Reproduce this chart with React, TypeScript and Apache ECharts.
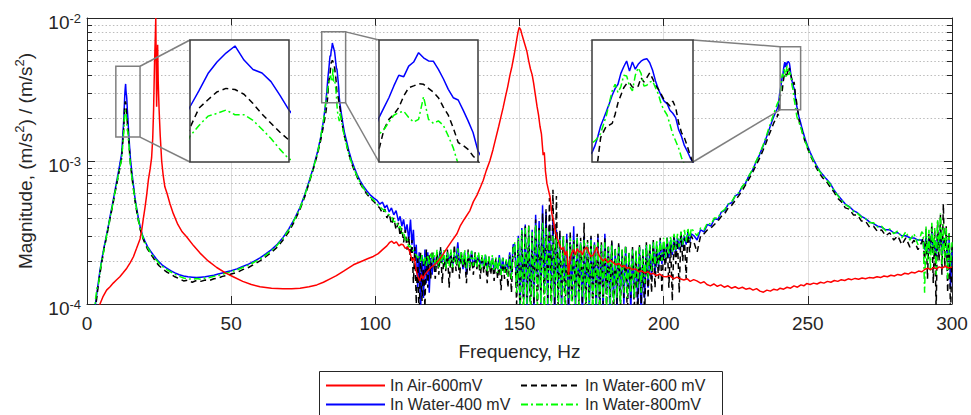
import React, { useEffect, useRef } from 'react';
import * as echarts from 'echarts';

const FONT = '"Liberation Sans", Arial, Helvetica, sans-serif';
const INK = '#262626';

// ---------------- In Air-600mV : [frequency Hz, magnitude] ----------------
const airSpectrum = [
  [4.0, 8.5e-5], [4.5, 1.0e-4], [5.5, 1.12e-4], [6.8, 1.25e-4], [8.0, 1.32e-4], [9.1, 1.4e-4], [10.2, 1.47e-4],
  [11.4, 1.55e-4], [12.6, 1.66e-4], [13.8, 1.78e-4], [15.0, 1.95e-4], [16.1, 2.14e-4], [17.2, 2.45e-4], [18.4, 2.85e-4],
  [19.0, 3.3e-4], [19.5, 3.9e-4], [20.1, 4.7e-4], [20.7, 5.8e-4], [21.3, 7.4e-4], [21.9, 8.8e-4], [22.4, 1.05e-3],
  [22.8, 1.45e-3], [23.1, 2.3e-3], [23.4, 4.6e-3], [23.7, 7.5e-3], [23.85, 1.0e-2], [24.0, 5.0e-3], [24.15, 2.4e-3],
  [24.35, 4.2e-3], [24.5, 6.5e-3], [24.7, 3.6e-3], [25.0, 2.3e-3], [25.4, 1.5e-3], [25.9, 1.0e-3], [26.4, 8.0e-4],
  [27.0, 6.6e-4], [27.8, 5.9e-4], [28.8, 5.0e-4], [29.9, 4.3e-4], [31.5, 3.6e-4], [33.0, 3.2e-4], [34.6, 2.94e-4],
  [37.0, 2.55e-4], [39.2, 2.27e-4], [42.0, 2.0e-4], [45.0, 1.8e-4], [48.0, 1.65e-4], [50.7, 1.55e-4], [54.0, 1.44e-4],
  [57.0, 1.37e-4], [60.0, 1.32e-4], [64.0, 1.29e-4], [68.0, 1.28e-4], [71.0, 1.28e-4], [73.9, 1.29e-4], [77.0, 1.32e-4],
  [79.7, 1.36e-4], [82.0, 1.42e-4], [84.3, 1.5e-4], [86.5, 1.58e-4], [89.0, 1.7e-4], [92.4, 1.88e-4], [95.5, 2.0e-4],
  [97.5, 2.08e-4], [99.3, 2.15e-4], [101.0, 2.25e-4], [102.5, 2.4e-4], [104.0, 2.55e-4], [105.0, 2.7e-4], [105.7, 2.75e-4],
  [106.5, 2.65e-4], [107.3, 2.72e-4], [108.2, 2.55e-4], [109.0, 2.62e-4], [109.6, 2.6e-4], [110.4, 2.45e-4], [111.2, 2.5e-4],
  [112.0, 2.3e-4], [112.8, 2.0e-4], [113.5, 2.1e-4], [114.2, 1.7e-4], [114.8, 1.55e-4], [115.4, 1.45e-4], [116.0, 1.6e-4],
  [116.5, 1.5e-4], [117.3, 1.62e-4], [118.2, 1.7e-4], [119.0, 1.78e-4], [120.0, 1.85e-4], [121.4, 1.95e-4], [123.0, 2.15e-4],
  [124.8, 2.45e-4], [126.5, 2.75e-4], [128.3, 3.1e-4], [129.4, 3.5e-4], [130.8, 3.9e-4], [132.8, 4.5e-4], [134.0, 5.2e-4],
  [135.3, 5.8e-4], [136.5, 6.6e-4], [137.4, 7.3e-4], [138.5, 8.6e-4], [139.7, 1.0e-3], [140.8, 1.2e-3], [141.8, 1.45e-3],
  [142.8, 1.75e-3], [143.6, 2.05e-3], [144.3, 2.35e-3], [145.1, 2.8e-3], [145.9, 3.3e-3], [146.7, 4.0e-3], [147.4, 4.6e-3],
  [148.2, 5.6e-3], [149.0, 7.0e-3], [149.5, 8.0e-3], [149.9, 8.6e-3], [150.4, 8.3e-3], [150.9, 7.6e-3], [151.5, 6.9e-3],
  [152.1, 6.3e-3], [152.6, 5.8e-3], [153.2, 5.0e-3], [153.8, 4.4e-3], [154.4, 4.0e-3], [154.9, 3.5e-3], [155.5, 2.9e-3],
  [156.1, 2.4e-3], [156.6, 2.1e-3], [157.1, 1.75e-3], [157.6, 1.55e-3], [158.2, 1.1e-3], [158.6, 1.15e-3], [159.0, 8.5e-4],
  [159.5, 7.0e-4], [160.0, 6.3e-4], [160.6, 5.6e-4], [161.2, 4.3e-4], [161.7, 3.9e-4], [162.3, 3.3e-4], [163.0, 2.9e-4],
  [163.5, 2.75e-4], [164.0, 2.55e-4], [164.6, 2.4e-4], [165.2, 2.5e-4], [165.8, 2.2e-4], [166.4, 2.35e-4], [167.0, 1.6e-4],
  [167.6, 2.1e-4], [168.2, 2.3e-4], [168.7, 2.4e-4], [169.4, 2.2e-4], [170.0, 2.45e-4], [170.6, 2.3e-4], [171.2, 2.35e-4],
  [171.8, 2.2e-4], [172.5, 2.4e-4], [173.3, 2.5e-4], [174.0, 2.3e-4], [174.8, 2.15e-4], [175.6, 2.2e-4], [176.2, 2.35e-4],
  [176.8, 2.5e-4], [177.5, 2.2e-4], [178.2, 2.1e-4], [179.0, 2.0e-4], [179.8, 2.08e-4], [180.6, 1.95e-4], [181.5, 2.02e-4],
  [182.6, 1.94e-4], [183.5, 1.88e-4], [184.5, 1.92e-4], [185.5, 1.82e-4], [186.4, 1.86e-4], [187.2, 1.78e-4], [188.2, 1.8e-4],
  [189.2, 1.74e-4], [190.3, 1.76e-4], [191.3, 1.68e-4], [192.4, 1.7e-4], [193.5, 1.65e-4], [194.6, 1.68e-4], [195.5, 1.62e-4],
  [196.4, 1.64e-4], [197.5, 1.58e-4], [198.6, 1.62e-4], [199.8, 1.56e-4], [201.0, 1.55e-4], [202.2, 1.58e-4], [203.4, 1.5e-4],
  [204.6, 1.54e-4], [205.7, 1.5e-4], [207.0, 1.47e-4], [208.2, 1.5e-4], [209.2, 1.44e-4], [210.4, 1.48e-4], [211.5, 1.45e-4],
  [212.8, 1.4e-4], [214.0, 1.43e-4], [215.0, 1.37e-4], [216.2, 1.34e-4], [217.4, 1.38e-4], [218.6, 1.33e-4], [219.8, 1.36e-4],
  [221.0, 1.31e-4], [222.3, 1.34e-4], [223.5, 1.29e-4], [224.8, 1.32e-4], [226.0, 1.28e-4], [227.3, 1.31e-4], [228.5, 1.27e-4],
  [229.8, 1.29e-4], [231.0, 1.25e-4], [232.2, 1.28e-4], [233.4, 1.23e-4], [234.6, 1.21e-4], [235.8, 1.25e-4], [237.0, 1.23e-4],
  [238.2, 1.27e-4], [239.4, 1.25e-4], [240.4, 1.29e-4], [241.6, 1.27e-4], [242.8, 1.31e-4], [244.0, 1.29e-4], [245.2, 1.34e-4],
  [246.4, 1.31e-4], [247.6, 1.36e-4], [248.6, 1.34e-4], [249.6, 1.39e-4], [250.8, 1.37e-4], [252.0, 1.4e-4], [253.2, 1.38e-4],
  [254.4, 1.42e-4], [255.6, 1.4e-4], [256.8, 1.44e-4], [258.0, 1.42e-4], [259.2, 1.46e-4], [260.4, 1.44e-4], [261.6, 1.48e-4],
  [262.8, 1.46e-4], [264.0, 1.5e-4], [265.2, 1.48e-4], [266.4, 1.51e-4], [267.6, 1.49e-4], [268.8, 1.52e-4], [270.0, 1.5e-4],
  [271.2, 1.53e-4], [272.7, 1.52e-4], [274.0, 1.55e-4], [275.2, 1.53e-4], [276.4, 1.57e-4], [277.6, 1.55e-4], [278.8, 1.59e-4],
  [280.0, 1.57e-4], [281.2, 1.61e-4], [282.4, 1.59e-4], [283.6, 1.64e-4], [284.8, 1.62e-4], [286.0, 1.67e-4], [287.2, 1.65e-4],
  [288.4, 1.7e-4], [289.6, 1.68e-4], [290.6, 1.75e-4], [291.6, 1.78e-4], [292.6, 1.74e-4], [293.6, 1.8e-4], [294.6, 1.76e-4],
  [295.6, 1.82e-4], [296.6, 1.78e-4], [297.6, 1.84e-4], [298.6, 1.79e-4], [299.5, 1.8e-4], [300.0, 1.82e-4],
];

// ------------- In Water rows: [frequency Hz, 400 mV, 600 mV, 800 mV] -------------
const waterRise = [
  [2.6, 8.0e-5, 7.5e-5, 8.5e-5], [3.0, 1.02e-4, 9.6e-5, 1.1e-4], [3.5, 1.22e-4, 1.15e-4, 1.3e-4],
  [4.0, 1.45e-4, 1.4e-4, 1.38e-4], [4.5, 1.72e-4, 1.62e-4, 1.68e-4], [5.0, 1.98e-4, 1.9e-4, 1.95e-4],
  [5.5, 2.25e-4, 2.15e-4, 2.2e-4], [6.0, 2.55e-4, 2.5e-4, 2.45e-4], [6.5, 2.85e-4, 2.75e-4, 2.8e-4],
  [7.0, 3.2e-4, 3.1e-4, 3.15e-4], [7.5, 3.6e-4, 3.5e-4, 3.55e-4], [8.0, 4.1e-4, 3.95e-4, 4.0e-4],
  [8.5, 4.6e-4, 4.45e-4, 4.5e-4], [9.0, 5.2e-4, 5.0e-4, 5.05e-4], [9.5, 5.9e-4, 5.7e-4, 5.75e-4],
  [10.0, 6.7e-4, 6.4e-4, 6.5e-4], [10.5, 7.6e-4, 7.2e-4, 7.3e-4], [11.0, 8.6e-4, 8.1e-4, 8.2e-4],
  [11.5, 9.8e-4, 9.2e-4, 9.2e-4], [12.0, 1.12e-3, 1.04e-3, 1.03e-3], [12.3, 1.38e-3, 1.25e-3, 1.22e-3],
  [12.6, 1.72e-3, 1.52e-3, 1.45e-3], [12.8, 2.05e-3, 1.78e-3, 1.68e-3],
];
const waterPeak1 = [
  [12.9, 2.31e-3, 2.01e-3, 1.90e-3], [13.0, 2.57e-3, 2.29e-3, 2.04e-3], [13.1, 2.88e-3, 2.42e-3, 2.17e-3],
  [13.2, 3.11e-3, 2.55e-3, 2.21e-3], [13.3, 3.30e-3, 2.61e-3, 2.26e-3], [13.4, 3.46e-3, 2.59e-3, 2.19e-3],
  [13.5, 3.15e-3, 2.51e-3, 2.19e-3], [13.6, 2.96e-3, 2.36e-3, 2.11e-3], [13.7, 2.89e-3, 2.20e-3, 1.99e-3],
  [13.8, 2.73e-3, 2.07e-3, 1.87e-3], [13.9, 2.49e-3, 1.95e-3, 1.74e-3], [14.0, 2.26e-3, 1.85e-3, 1.63e-3],
];
const waterTrough = [
  [14.2, 1.95e-3, 1.72e-3, 1.6e-3], [14.4, 1.65e-3, 1.48e-3, 1.4e-3], [14.7, 1.32e-3, 1.2e-3, 1.15e-3],
  [15.1, 1.02e-3, 9.4e-4, 9.2e-4], [15.6, 8.2e-4, 7.7e-4, 7.6e-4], [16.1, 6.8e-4, 6.4e-4, 6.4e-4],
  [16.6, 5.6e-4, 5.3e-4, 5.4e-4], [17.2, 4.7e-4, 4.5e-4, 4.6e-4], [17.8, 4.0e-4, 3.85e-4, 3.9e-4],
  [18.4, 3.5e-4, 3.35e-4, 3.4e-4], [19.2, 3.05e-4, 2.95e-4, 3.0e-4], [20.0, 2.78e-4, 2.68e-4, 2.72e-4],
  [21.0, 2.52e-4, 2.42e-4, 2.48e-4], [22.0, 2.35e-4, 2.25e-4, 2.3e-4], [23.0, 2.2e-4, 2.1e-4, 2.16e-4],
  [24.0, 2.07e-4, 1.96e-4, 2.03e-4], [25.0, 1.97e-4, 1.85e-4, 1.93e-4], [26.0, 1.88e-4, 1.78e-4, 1.84e-4],
  [27.5, 1.79e-4, 1.68e-4, 1.75e-4], [29.0, 1.71e-4, 1.62e-4, 1.68e-4], [30.5, 1.65e-4, 1.55e-4, 1.61e-4],
  [32.0, 1.6e-4, 1.5e-4, 1.56e-4], [33.5, 1.57e-4, 1.45e-4, 1.52e-4], [35.0, 1.55e-4, 1.47e-4, 1.5e-4],
  [36.5, 1.54e-4, 1.42e-4, 1.49e-4], [38.0, 1.53e-4, 1.46e-4, 1.51e-4], [39.5, 1.54e-4, 1.44e-4, 1.49e-4],
  [41.0, 1.55e-4, 1.47e-4, 1.52e-4], [42.5, 1.57e-4, 1.46e-4, 1.53e-4], [44.0, 1.59e-4, 1.5e-4, 1.56e-4],
  [45.5, 1.62e-4, 1.52e-4, 1.58e-4], [47.0, 1.65e-4, 1.56e-4, 1.62e-4], [48.5, 1.68e-4, 1.58e-4, 1.65e-4],
  [50.0, 1.71e-4, 1.62e-4, 1.68e-4], [52.0, 1.76e-4, 1.66e-4, 1.73e-4], [54.0, 1.83e-4, 1.74e-4, 1.8e-4],
  [56.0, 1.9e-4, 1.8e-4, 1.87e-4], [58.0, 1.99e-4, 1.9e-4, 1.96e-4], [60.0, 2.1e-4, 2.0e-4, 2.06e-4],
  [62.0, 2.24e-4, 2.14e-4, 2.2e-4], [64.0, 2.4e-4, 2.3e-4, 2.36e-4], [66.0, 2.62e-4, 2.5e-4, 2.58e-4],
  [68.0, 2.92e-4, 2.8e-4, 2.88e-4], [70.0, 3.35e-4, 3.2e-4, 3.3e-4], [72.0, 3.95e-4, 3.8e-4, 3.9e-4],
  [73.9, 4.75e-4, 4.6e-4, 4.7e-4], [75.5, 5.8e-4, 5.6e-4, 5.75e-4], [77.0, 7.2e-4, 7.0e-4, 7.1e-4],
  [78.5, 9.0e-4, 8.8e-4, 8.9e-4], [80.0, 1.17e-3, 1.13e-3, 1.15e-3], [81.0, 1.45e-3, 1.38e-3, 1.45e-3],
  [82.0, 1.9e-3, 1.75e-3, 1.9e-3], [82.8, 2.55e-3, 2.15e-3, 2.55e-3], [83.2, 3.1e-3, 2.5e-3, 2.95e-3],
];
const waterPeak2 = [
  [83.5, 3.73e-3, 2.80e-3, 3.21e-3], [83.7, 4.08e-3, 3.35e-3, 3.35e-3], [83.9, 4.46e-3, 3.67e-3, 3.58e-3],
  [84.1, 4.96e-3, 3.84e-3, 3.81e-3], [84.3, 5.46e-3, 4.08e-3, 3.90e-3], [84.5, 5.39e-3, 4.53e-3, 3.95e-3],
  [84.7, 5.93e-3, 4.88e-3, 3.73e-3], [84.9, 6.15e-3, 4.96e-3, 3.58e-3], [85.1, 6.69e-3, 5.06e-3, 3.67e-3],
  [85.3, 6.39e-3, 5.03e-3, 4.50e-3], [85.5, 6.21e-3, 4.85e-3, 3.67e-3], [85.7, 6.19e-3, 4.69e-3, 3.54e-3],
  [85.9, 5.76e-3, 4.46e-3, 3.62e-3], [86.1, 5.29e-3, 4.10e-3, 3.48e-3], [86.3, 4.81e-3, 3.81e-3, 3.16e-3],
  [86.5, 4.46e-3, 3.40e-3, 2.84e-3], [86.7, 4.37e-3, 2.98e-3, 2.45e-3], [86.9, 3.99e-3, 2.90e-3, 2.20e-3],
  [87.1, 3.62e-3, 2.80e-3, 2.08e-3], [87.3, 3.26e-3, 2.64e-3, 1.98e-3], [87.5, 2.76e-3, 2.52e-3, 1.90e-3],
];
const waterDecay = [
  [87.8, 2.45e-3, 2.3e-3, 2.2e-3], [88.2, 2.15e-3, 2.0e-3, 1.95e-3], [88.7, 1.85e-3, 1.72e-3, 1.7e-3],
  [89.3, 1.58e-3, 1.48e-3, 1.47e-3], [90.0, 1.38e-3, 1.3e-3, 1.3e-3], [90.8, 1.18e-3, 1.12e-3, 1.12e-3],
  [91.7, 1.02e-3, 9.7e-4, 9.8e-4], [92.7, 9.0e-4, 8.6e-4, 8.7e-4], [93.7, 8.0e-4, 7.7e-4, 7.8e-4],
  [94.7, 7.3e-4, 7.0e-4, 7.1e-4], [95.8, 6.7e-4, 6.4e-4, 6.5e-4], [97.0, 6.2e-4, 5.9e-4, 6.0e-4],
  [98.2, 5.8e-4, 5.5e-4, 5.6e-4], [99.5, 5.5e-4, 5.2e-4, 5.3e-4], [100.6, 5.3e-4, 4.9e-4, 5.0e-4],
  [101.5, 5.0e-4, 4.7e-4, 4.8e-4], [102.5, 5.15e-4, 4.3e-4, 4.6e-4], [103.3, 4.7e-4, 4.6e-4, 4.5e-4],
  [104.0, 4.9e-4, 4.0e-4, 4.3e-4], [104.8, 4.4e-4, 4.3e-4, 4.2e-4], [105.6, 4.7e-4, 3.6e-4, 4.1e-4],
  [106.4, 4.2e-4, 4.0e-4, 3.75e-4], [107.2, 4.5e-4, 3.3e-4, 3.8e-4], [108.0, 3.8e-4, 3.7e-4, 3.4e-4],
  [108.6, 4.1e-4, 3.0e-4, 3.5e-4], [109.2, 3.5e-4, 3.4e-4, 3.1e-4], [109.8, 3.9e-4, 2.7e-4, 3.2e-4],
  [110.4, 3.2e-4, 3.3e-4, 2.8e-4], [111.0, 3.6e-4, 2.4e-4, 2.9e-4], [111.6, 2.8e-4, 3.0e-4, 2.5e-4],
  [112.2, 3.9e-4, 2.0e-4, 2.55e-4], [112.7, 2.6e-4, 2.8e-4, 2.4e-4], [113.2, 3.3e-4, 1.4e-4, 2.35e-4],
  [113.7, 2.1e-4, 2.5e-4, 2.25e-4], [114.2, 2.6e-4, 1.0e-4, 2.2e-4], [114.7, 1.3e-4, 2.2e-4, 2.1e-4],
  [115.2, 2.3e-4, 8e-5, 2.15e-4], [115.7, 9e-5, 2.3e-4, 1.95e-4], [116.2, 2.2e-4, 1.05e-4, 2.2e-4],
  [116.7, 1.1e-4, 2.1e-4, 1.9e-4], [117.2, 2.4e-4, 9.5e-5, 2.15e-4], [117.7, 1.4e-4, 2.4e-4, 1.85e-4],
  [118.2, 2.3e-4, 1.3e-4, 2.2e-4], [118.7, 1.2e-4, 2.2e-4, 1.9e-4], [119.2, 2.1e-4, 1.5e-4, 2.25e-4],
  [119.7, 1.6e-4, 2.3e-4, 1.95e-4],
];
const waterBand = [
  [120.2, 2.2e-4, 2.0e-4, 2.3e-4], [120.8, 1.8e-4, 1.5e-4, 1.85e-4], [121.4, 2.3e-4, 2.3e-4, 2.4e-4],
  [122.0, 1.9e-4, 1.6e-4, 1.8e-4], [122.6, 2.4e-4, 2.5e-4, 2.35e-4], [123.2, 1.95e-4, 1.4e-4, 1.9e-4],
  [123.8, 2.2e-4, 2.2e-4, 2.4e-4], [124.4, 1.8e-4, 1.7e-4, 1.75e-4], [125.0, 2.3e-4, 2.4e-4, 2.3e-4],
  [125.6, 2.0e-4, 1.3e-4, 1.85e-4], [126.2, 2.25e-4, 2.3e-4, 2.4e-4], [126.8, 1.85e-4, 1.6e-4, 1.8e-4],
  [127.4, 2.2e-4, 2.6e-4, 2.3e-4], [128.0, 2.0e-4, 1.7e-4, 1.9e-4], [128.6, 2.7e-4, 2.2e-4, 2.45e-4],
  [129.2, 1.9e-4, 1.5e-4, 1.8e-4], [129.8, 2.2e-4, 2.3e-4, 2.35e-4], [130.4, 1.75e-4, 1.8e-4, 1.85e-4],
  [131.0, 2.3e-4, 2.1e-4, 2.4e-4], [131.6, 1.6e-4, 1.4e-4, 1.75e-4], [132.2, 2.2e-4, 2.4e-4, 2.3e-4],
  [132.8, 1.9e-4, 1.7e-4, 1.8e-4], [133.4, 2.35e-4, 2.2e-4, 2.35e-4], [134.0, 1.8e-4, 1.6e-4, 1.85e-4],
  [134.6, 2.1e-4, 2.3e-4, 2.25e-4], [135.2, 1.9e-4, 1.75e-4, 1.8e-4], [135.8, 2.2e-4, 2.1e-4, 2.3e-4],
  [136.4, 1.85e-4, 1.5e-4, 1.75e-4], [137.0, 2.1e-4, 2.2e-4, 2.2e-4], [137.6, 1.8e-4, 1.65e-4, 1.8e-4],
  [138.2, 2.2e-4, 2.05e-4, 2.25e-4], [138.8, 1.75e-4, 1.4e-4, 1.7e-4], [139.4, 2.05e-4, 2.15e-4, 2.15e-4],
  [140.0, 1.8e-4, 1.6e-4, 1.75e-4], [140.6, 2.1e-4, 2.0e-4, 2.2e-4], [141.2, 1.7e-4, 1.45e-4, 1.7e-4],
  [141.8, 2.0e-4, 2.1e-4, 2.1e-4], [142.4, 1.75e-4, 1.5e-4, 1.65e-4], [143.0, 2.2e-4, 1.95e-4, 2.15e-4],
  [143.6, 1.7e-4, 1.25e-4, 1.6e-4], [144.2, 2.1e-4, 2.1e-4, 2.1e-4], [144.8, 1.65e-4, 1.5e-4, 1.65e-4],
  [145.4, 2.0e-4, 2.0e-4, 2.05e-4], [146.0, 1.75e-4, 1.3e-4, 1.55e-4], [146.6, 2.3e-4, 2.2e-4, 2.2e-4],
  [147.2, 1.6e-4, 1.2e-4, 1.5e-4], [147.8, 2.6e-4, 2.5e-4, 2.4e-4],
];
const waterNoise = [
  [148.4, 2.6e-4, 2.4e-4, 2.7e-4], [149.0, 1.3e-4, 1.0e-4, 1.2e-4], [149.6, 3.0e-4, 2.8e-4, 2.9e-4],
  [150.2, 9e-5, 8e-5, 1.0e-4], [150.8, 3.4e-4, 3.2e-4, 3.3e-4], [151.4, 1.1e-4, 9e-5, 9e-5],
  [152.0, 3.6e-4, 3.5e-4, 3.4e-4], [152.6, 8e-5, 1.1e-4, 1.0e-4], [153.2, 3.1e-4, 3.6e-4, 3.5e-4],
  [153.8, 1.2e-4, 7e-5, 9e-5], [154.4, 3.3e-4, 3.0e-4, 3.2e-4], [155.0, 9e-5, 1.0e-4, 1.1e-4],
  [155.6, 4.2e-4, 3.9e-4, 3.6e-4], [156.2, 1.4e-4, 8e-5, 9e-5], [156.8, 3.8e-4, 3.4e-4, 3.3e-4],
  [157.4, 1.0e-4, 1.2e-4, 1.0e-4], [158.0, 4.9e-4, 4.3e-4, 3.7e-4], [158.6, 1.3e-4, 9e-5, 8e-5],
  [159.2, 4.4e-4, 4.6e-4, 3.4e-4], [159.8, 9e-5, 1.1e-4, 1.0e-4], [160.4, 3.6e-4, 5.5e-4, 3.2e-4],
  [161.0, 1.2e-4, 8e-5, 9e-5], [161.6, 3.9e-4, 6.3e-4, 3.0e-4], [162.2, 8e-5, 1.0e-4, 1.1e-4],
  [162.8, 3.3e-4, 5.7e-4, 2.9e-4], [163.4, 1.1e-4, 9e-5, 8e-5], [164.0, 3.0e-4, 3.3e-4, 2.8e-4],
  [164.6, 9e-5, 1.1e-4, 1.0e-4], [165.2, 2.8e-4, 3.0e-4, 3.0e-4], [165.8, 1.2e-4, 7e-5, 9e-5],
  [166.4, 3.1e-4, 2.9e-4, 2.7e-4], [167.0, 8e-5, 1.0e-4, 1.1e-4], [167.6, 2.7e-4, 3.2e-4, 2.9e-4],
  [168.2, 1.1e-4, 8e-5, 8e-5], [168.8, 3.5e-4, 2.8e-4, 2.8e-4], [169.4, 9e-5, 1.1e-4, 1.0e-4],
  [170.0, 2.9e-4, 3.1e-4, 2.9e-4], [170.6, 1.2e-4, 9e-5, 9e-5], [171.2, 2.7e-4, 2.9e-4, 2.7e-4],
  [171.8, 8e-5, 1.0e-4, 1.1e-4], [172.4, 3.0e-4, 3.7e-4, 2.8e-4], [173.0, 1.1e-4, 8e-5, 9e-5],
  [173.6, 2.6e-4, 2.8e-4, 2.7e-4], [174.2, 9e-5, 1.1e-4, 1.0e-4], [174.8, 2.9e-4, 3.0e-4, 2.8e-4],
  [175.4, 1.2e-4, 9e-5, 8e-5], [176.0, 2.7e-4, 2.6e-4, 2.6e-4], [176.6, 8e-5, 1.1e-4, 1.0e-4],
  [177.2, 3.0e-4, 3.1e-4, 2.7e-4], [177.8, 1.0e-4, 8e-5, 9e-5], [178.4, 2.6e-4, 2.7e-4, 2.6e-4],
  [179.0, 9e-5, 1.0e-4, 1.1e-4], [179.6, 3.1e-4, 2.9e-4, 2.7e-4], [180.2, 1.2e-4, 9e-5, 9e-5],
  [180.8, 2.5e-4, 2.6e-4, 2.5e-4], [181.4, 8e-5, 1.1e-4, 1.0e-4], [182.0, 2.7e-4, 2.8e-4, 2.6e-4],
  [182.6, 1.1e-4, 8e-5, 9e-5], [183.2, 2.4e-4, 2.5e-4, 2.4e-4], [183.8, 9e-5, 1.0e-4, 1.1e-4],
  [184.4, 2.6e-4, 2.7e-4, 2.5e-4], [185.0, 1.2e-4, 9e-5, 1.0e-4], [185.6, 2.3e-4, 2.4e-4, 2.4e-4],
  [186.2, 1.0e-4, 1.1e-4, 1.2e-4], [186.8, 2.5e-4, 2.6e-4, 2.5e-4], [187.4, 1.3e-4, 8e-5, 1.1e-4],
  [188.0, 2.2e-4, 2.3e-4, 2.3e-4], [188.6, 9e-5, 1.1e-4, 1.2e-4], [189.2, 2.4e-4, 2.5e-4, 2.4e-4],
  [189.8, 1.2e-4, 9e-5, 1.1e-4], [190.4, 2.3e-4, 2.4e-4, 2.4e-4], [191.0, 1.0e-4, 8e-5, 1.3e-4],
  [191.6, 2.5e-4, 2.6e-4, 2.5e-4], [192.2, 8e-5, 1.0e-4, 1.2e-4], [192.8, 2.4e-4, 2.3e-4, 2.4e-4],
  [193.4, 1.1e-4, 8e-5, 1.4e-4], [194.0, 2.6e-4, 2.7e-4, 2.6e-4], [194.6, 1.3e-4, 1.1e-4, 1.5e-4],
  [195.2, 2.5e-4, 2.6e-4, 2.6e-4], [195.8, 1.5e-4, 1.2e-4, 1.7e-4], [196.4, 2.7e-4, 2.8e-4, 2.7e-4],
  [197.0, 1.6e-4, 1.3e-4, 1.8e-4], [197.6, 2.6e-4, 2.5e-4, 2.8e-4], [198.2, 1.8e-4, 1.5e-4, 1.9e-4],
  [198.8, 2.8e-4, 2.9e-4, 2.8e-4], [199.4, 1.9e-4, 1.2e-4, 2.0e-4], [200.0, 2.7e-4, 2.6e-4, 2.9e-4],
  [200.6, 2.0e-4, 1.7e-4, 2.1e-4], [201.2, 2.9e-4, 2.9e-4, 2.9e-4], [201.8, 2.1e-4, 1.3e-4, 2.2e-4],
  [202.4, 2.8e-4, 2.7e-4, 3.0e-4], [203.0, 2.2e-4, 1.05e-4, 2.3e-4], [203.6, 3.0e-4, 3.0e-4, 3.1e-4],
  [204.2, 2.3e-4, 1.9e-4, 2.4e-4], [204.8, 2.9e-4, 2.8e-4, 3.1e-4], [205.4, 2.4e-4, 1.2e-4, 2.5e-4],
  [206.0, 3.1e-4, 3.2e-4, 3.2e-4], [206.6, 2.5e-4, 2.0e-4, 2.6e-4], [207.2, 3.0e-4, 2.9e-4, 3.3e-4],
  [207.8, 2.6e-4, 1.5e-4, 2.7e-4], [208.4, 3.2e-4, 3.3e-4, 3.4e-4], [209.0, 2.7e-4, 2.3e-4, 2.8e-4],
  [209.6, 3.1e-4, 3.0e-4, 3.4e-4],
];
const waterRise3 = [
  [210.5, 3.0e-4, 2.7e-4, 3.2e-4], [211.6, 2.8e-4, 2.3e-4, 3.0e-4], [212.8, 3.3e-4, 3.0e-4, 3.4e-4],
  [214.0, 3.2e-4, 3.1e-4, 3.3e-4], [215.2, 3.6e-4, 3.3e-4, 3.7e-4], [216.4, 3.5e-4, 3.4e-4, 3.6e-4],
  [217.6, 3.95e-4, 3.6e-4, 4.0e-4], [218.8, 3.9e-4, 3.8e-4, 4.0e-4], [220.0, 4.4e-4, 4.1e-4, 4.4e-4],
  [221.2, 4.5e-4, 4.3e-4, 4.6e-4], [222.4, 5.0e-4, 4.7e-4, 5.0e-4], [223.6, 5.1e-4, 4.9e-4, 5.2e-4],
  [224.8, 5.7e-4, 5.3e-4, 5.7e-4], [226.0, 5.9e-4, 5.7e-4, 6.0e-4], [227.2, 6.6e-4, 6.2e-4, 6.6e-4],
  [228.4, 7.0e-4, 6.8e-4, 7.1e-4], [229.6, 7.9e-4, 7.5e-4, 7.9e-4], [230.8, 8.6e-4, 8.3e-4, 8.7e-4],
  [232.0, 9.8e-4, 9.3e-4, 9.9e-4], [233.2, 1.1e-3, 1.04e-3, 1.12e-3], [234.4, 1.26e-3, 1.18e-3, 1.28e-3],
  [235.4, 1.42e-3, 1.32e-3, 1.45e-3], [236.4, 1.62e-3, 1.5e-3, 1.68e-3], [237.4, 1.85e-3, 1.68e-3, 1.92e-3],
  [238.2, 2.05e-3, 1.85e-3, 2.15e-3], [238.9, 2.2e-3, 1.97e-3, 2.35e-3], [239.3, 2.3e-3, 2.02e-3, 2.48e-3],
];
const waterPeak3 = [
  [239.6, 2.37e-3, 2.13e-3, 2.56e-3], [239.8, 2.50e-3, 2.08e-3, 2.60e-3], [240.0, 2.69e-3, 2.22e-3, 2.67e-3],
  [240.2, 2.93e-3, 2.67e-3, 2.76e-3], [240.4, 3.10e-3, 2.80e-3, 2.97e-3], [240.6, 3.29e-3, 2.93e-3, 3.19e-3],
  [240.8, 3.50e-3, 2.95e-3, 3.52e-3], [241.0, 3.74e-3, 2.99e-3, 3.87e-3], [241.2, 3.94e-3, 3.21e-3, 4.08e-3],
  [241.4, 4.08e-3, 3.52e-3, 3.82e-3], [241.6, 4.45e-3, 3.74e-3, 4.00e-3], [241.8, 4.69e-3, 3.97e-3, 4.38e-3],
  [242.0, 4.91e-3, 4.10e-3, 4.36e-3], [242.2, 4.53e-3, 4.13e-3, 4.02e-3], [242.4, 4.87e-3, 3.99e-3, 3.87e-3],
  [242.6, 4.60e-3, 3.97e-3, 4.38e-3], [242.8, 4.78e-3, 4.02e-3, 4.65e-3], [243.0, 4.90e-3, 4.30e-3, 4.45e-3],
  [243.2, 4.97e-3, 4.15e-3, 4.02e-3], [243.4, 5.00e-3, 4.30e-3, 4.05e-3], [243.6, 4.84e-3, 4.47e-3, 4.15e-3],
  [243.8, 4.56e-3, 4.27e-3, 4.19e-3], [244.0, 4.19e-3, 4.05e-3, 3.97e-3], [244.2, 3.92e-3, 3.92e-3, 3.77e-3],
  [244.4, 3.72e-3, 3.77e-3, 3.48e-3], [244.6, 3.57e-3, 3.60e-3, 3.32e-3], [244.8, 3.50e-3, 3.52e-3, 3.20e-3],
  [245.0, 3.32e-3, 3.43e-3, 2.97e-3], [245.2, 3.24e-3, 3.57e-3, 2.74e-3], [245.4, 3.13e-3, 3.39e-3, 2.60e-3],
  [245.6, 2.85e-3, 3.01e-3, 2.46e-3], [245.8, 2.70e-3, 2.78e-3, 2.28e-3], [246.0, 2.51e-3, 2.67e-3, 2.16e-3],
  [246.2, 2.40e-3, 2.50e-3, 2.05e-3], [246.4, 2.28e-3, 2.32e-3, 1.97e-3], [246.6, 2.19e-3, 2.19e-3, 1.92e-3],
];
const waterTail = [
  [246.9, 2.05e-3, 1.95e-3, 1.87e-3], [247.3, 1.92e-3, 1.8e-3, 1.78e-3], [247.8, 1.75e-3, 1.68e-3, 1.65e-3],
  [248.4, 1.58e-3, 1.5e-3, 1.5e-3], [249.1, 1.42e-3, 1.36e-3, 1.37e-3], [249.9, 1.28e-3, 1.23e-3, 1.24e-3],
  [250.8, 1.15e-3, 1.1e-3, 1.12e-3], [251.8, 1.04e-3, 1.0e-3, 1.02e-3], [252.9, 9.4e-4, 9.0e-4, 9.3e-4],
  [254.0, 8.6e-4, 8.2e-4, 8.5e-4], [255.2, 8.0e-4, 7.6e-4, 7.9e-4], [256.4, 7.5e-4, 7.2e-4, 7.4e-4],
  [257.7, 7.0e-4, 6.6e-4, 6.9e-4], [259.0, 6.3e-4, 6.1e-4, 6.25e-4], [260.3, 5.8e-4, 5.5e-4, 5.75e-4],
  [261.6, 5.4e-4, 5.2e-4, 5.35e-4], [263.0, 5.0e-4, 4.7e-4, 4.95e-4], [264.4, 4.8e-4, 4.6e-4, 4.75e-4],
  [265.8, 4.5e-4, 4.2e-4, 4.45e-4], [267.2, 4.35e-4, 4.2e-4, 4.3e-4], [268.6, 4.1e-4, 3.8e-4, 4.05e-4],
  [270.0, 3.95e-4, 3.8e-4, 3.95e-4], [271.4, 3.75e-4, 3.45e-4, 3.7e-4], [272.8, 3.65e-4, 3.5e-4, 3.7e-4],
  [274.2, 3.5e-4, 3.2e-4, 3.45e-4], [275.6, 3.45e-4, 3.3e-4, 3.5e-4], [277.0, 3.3e-4, 3.0e-4, 3.25e-4],
  [278.4, 3.3e-4, 3.15e-4, 3.35e-4], [279.8, 3.15e-4, 2.8e-4, 3.1e-4], [281.2, 3.15e-4, 3.0e-4, 3.25e-4],
  [282.6, 3.0e-4, 2.6e-4, 2.9e-4], [284.0, 3.0e-4, 2.9e-4, 3.2e-4], [285.4, 2.9e-4, 2.5e-4, 2.8e-4],
  [286.8, 2.9e-4, 2.8e-4, 3.1e-4], [288.2, 2.8e-4, 2.4e-4, 2.6e-4], [289.5, 2.8e-4, 2.7e-4, 3.2e-4],
];
const waterEnd = [
  [290.0, 2.7e-4, 2.9e-4, 3.1e-4], [290.5, 2.4e-4, 1.9e-4, 1.2e-4], [291.0, 3.0e-4, 3.4e-4, 3.5e-4],
  [291.5, 2.2e-4, 1.5e-4, 2.0e-4], [292.0, 2.9e-4, 3.1e-4, 3.3e-4], [292.5, 2.5e-4, 2.2e-4, 1.7e-4],
  [293.0, 3.2e-4, 3.6e-4, 3.7e-4], [293.5, 2.3e-4, 1.4e-4, 2.2e-4], [294.0, 2.8e-4, 3.3e-4, 3.4e-4],
  [294.5, 2.0e-4, 9e-5, 1.6e-4], [295.0, 3.1e-4, 3.8e-4, 3.9e-4], [295.5, 2.4e-4, 2.0e-4, 2.3e-4],
  [296.0, 3.3e-4, 4.2e-4, 4.3e-4], [296.5, 2.2e-4, 1.6e-4, 1.9e-4], [297.0, 2.9e-4, 5.0e-4, 3.6e-4],
  [297.5, 2.6e-4, 1.8e-4, 2.1e-4], [298.0, 3.0e-4, 3.5e-4, 3.4e-4], [298.5, 1.9e-4, 1.2e-4, 1.5e-4],
  [299.0, 2.8e-4, 3.2e-4, 3.1e-4], [299.5, 1.3e-4, 8e-5, 1.8e-4], [300.0, 2.4e-4, 2.6e-4, 2.7e-4],
];

// Minor log gridline levels (2..9 x 10^k)
const minorLevels = [2e-4, 3e-4, 4e-4, 5e-4, 6e-4, 7e-4, 8e-4, 9e-4, 2e-3, 3e-3, 4e-3, 5e-3, 6e-3, 7e-3, 8e-3, 9e-3];

// Zoomed regions marked on the main axes (data units) and the ranges shown in the insets
const zoomBoxFreq = [[10.0, 18.4], [81.4, 89.7], [240.4, 247.5]];
const zoomBoxMag = [[1.47e-3, 4.6e-3], [2.55e-3, 8.0e-3], [2.28e-3, 6.3e-3]];
const insetFreq = [[12.9, 14.0], [83.5, 87.5], [239.6, 246.6]];
const insetMag = [[1.6e-3, 3.6e-3], [2.5e-3, 7.5e-3], [2.2e-3, 5.8e-3]];

// Layout (pixels)
const MAIN = { left: 87, top: 18, width: 865, height: 286 };
const INSETS = [
  { left: 190, top: 40, width: 99, height: 122, side: 'right' },
  { left: 379, top: 40, width: 99, height: 122, side: 'right' },
  { left: 592, top: 40, width: 101, height: 122, side: 'left' },
];

const waterRows = [
  ...waterRise, ...waterPeak1, ...waterTrough, ...waterPeak2, ...waterDecay,
  ...waterBand, ...waterNoise, ...waterRise3, ...waterPeak3, ...waterTail, ...waterEnd,
];
const pick = (i: number) => waterRows.map((r) => [r[0], r[i]]);

export default function App() {
  const ref = useRef<HTMLDivElement>(null);

  useEffect(() => {
    const el = ref.current;
    if (!el) return;
    const chart = echarts.init(el, null, { renderer: 'svg' });

    const lineDefs: any[] = [
      { name: 'In Water-400 mV', data: pick(1), color: '#0000ff', dash: 'solid' },
      { name: 'In Water-600 mV', data: pick(2), color: '#000000', dash: [6, 4] },
      { name: 'In Water-800mV', data: pick(3), color: '#00ff00', dash: [7, 3, 2, 3] },
      { name: 'In Air-600mV', data: airSpectrum, color: '#ff0000', dash: 'solid' },
    ];

    const mkSeries = (d: any, axis: number, z: number, name: string) => ({
      type: 'line',
      name,
      data: d.data,
      xAxisIndex: axis,
      yAxisIndex: axis,
      symbol: 'none',
      showSymbol: false,
      color: d.color,
      clip: true,
      z,
      silent: true,
      emphasis: { disabled: true },
      lineStyle: { color: d.color, width: 1.5, type: d.dash },
    });

    const series: any[] = lineDefs.map((d) => mkSeries(d, 0, 3, d.name));
    INSETS.forEach((_, i) => {
      lineDefs.slice(0, 3).forEach((d) => series.push(mkSeries(d, i + 2, 11, `${d.name} zoom ${i + 1}`)));
    });

    const axisText = { fontSize: 19, fontFamily: FONT, color: INK };
    const legendBase = {
      orient: 'vertical',
      top: 376,
      itemWidth: 59,
      itemHeight: 19,
      itemGap: 0,
      padding: 0,
      selectedMode: false,
      itemStyle: { opacity: 0, borderWidth: 0 },
      textStyle: { fontSize: 16, fontFamily: FONT, color: INK, lineHeight: 19 },
    };

    const option: any = {
      animation: false,
      backgroundColor: '#ffffff',
      grid: [
        { ...MAIN, outerBoundsMode: 'none', containLabel: false },
        ...INSETS.map((r) => ({ left: r.left, top: r.top, width: r.width, height: r.height, outerBoundsMode: 'none', containLabel: false })),
      ],
      xAxis: [
        {
          gridIndex: 0, type: 'value', min: 0, max: 300, interval: 50, position: 'bottom',
          axisLine: { show: true, onZero: false, lineStyle: { color: INK, width: 1 } },
          axisTick: { show: true, inside: true, length: 8, lineStyle: { color: INK } },
          axisLabel: { ...axisText, margin: 10 },
          splitLine: { show: true, lineStyle: { color: '#dedede', width: 1 } },
          name: 'Frequency, Hz', nameLocation: 'middle', nameGap: 38, nameMoveOverlap: false,
          nameTextStyle: { ...axisText },
        },
        {
          gridIndex: 0, type: 'value', min: 0, max: 300, interval: 50, position: 'top',
          axisLine: { show: true, onZero: false, lineStyle: { color: INK, width: 1 } },
          axisTick: { show: true, inside: true, length: 8, lineStyle: { color: INK } },
          axisLabel: { show: false }, splitLine: { show: false },
        },
        ...insetFreq.map((f, i) => ({ gridIndex: i + 1, type: 'value', min: f[0], max: f[1], show: false })),
      ],
      yAxis: [
        {
          gridIndex: 0, type: 'log', logBase: 10, min: 1e-4, max: 1e-2, position: 'left',
          axisLine: { show: true, onZero: false, lineStyle: { color: INK, width: 1 } },
          axisTick: { show: true, inside: true, length: 8, lineStyle: { color: INK } },
          axisLabel: {
            margin: 6,
            padding: [7, 0, 0, 0],
            formatter: (v: number) => `{b|10}{s|${Math.round(Math.log10(v))}}`,
            rich: {
              b: { fontSize: 19, fontFamily: FONT, color: INK, lineHeight: 20, verticalAlign: 'bottom' },
              s: { fontSize: 13, fontFamily: FONT, color: INK, lineHeight: 15, verticalAlign: 'top' },
            },
          },
          splitLine: { show: true, lineStyle: { color: '#dedede', width: 1 } },
          name: '{t|Magnitude, (m/s}{u|2}{t|) / (m/s}{u|2}{t|)}',
          nameLocation: 'middle', nameGap: 52, nameMoveOverlap: false,
          nameTextStyle: {
            rich: {
              t: { fontSize: 19, fontFamily: FONT, color: INK, lineHeight: 22, verticalAlign: 'bottom' },
              u: { fontSize: 13, fontFamily: FONT, color: INK, lineHeight: 15, verticalAlign: 'top' },
            },
          },
        },
        {
          gridIndex: 0, type: 'log', logBase: 10, min: 1e-4, max: 1e-2, position: 'right',
          axisLine: { show: true, onZero: false, lineStyle: { color: INK, width: 1 } },
          axisTick: { show: true, inside: true, length: 8, lineStyle: { color: INK } },
          axisLabel: { show: false }, splitLine: { show: false },
        },
        ...insetMag.map((m, i) => ({ gridIndex: i + 1, type: 'log', logBase: 10, min: m[0], max: m[1], show: false })),
      ],
      legend: [
        { ...legendBase, left: 325, data: ['In Air-600mV', 'In Water-400 mV'] },
        { ...legendBase, left: 520, data: ['In Water-600 mV', 'In Water-800mV'] },
      ],
      series,
    };

    chart.setOption(option);

    // Decorations positioned through the main axes' own scales
    const px = (f: number, m: number) => chart.convertToPixel({ gridIndex: 0 }, [f, m]) as number[];
    const xl = px(0, 1e-3)[0];
    const xr = px(300, 1e-3)[0];
    const g: any[] = [];
    minorLevels.forEach((v) => {
      const y = Math.round(px(0, v)[1]) + 0.5;
      g.push({ type: 'line', silent: true, z: 1, shape: { x1: xl, y1: y, x2: xr, y2: y }, style: { stroke: '#bcbcbc', lineWidth: 1, lineDash: [1.5, 2.2] } });
      g.push({ type: 'line', silent: true, z: 4, shape: { x1: xl, y1: y, x2: xl + 5, y2: y }, style: { stroke: INK, lineWidth: 1 } });
      g.push({ type: 'line', silent: true, z: 4, shape: { x1: xr - 5, y1: y, x2: xr, y2: y }, style: { stroke: INK, lineWidth: 1 } });
    });
    INSETS.forEach((r, i) => {
      const [bx0, by0] = px(zoomBoxFreq[i][0], zoomBoxMag[i][1]);
      const [bx1, by1] = px(zoomBoxFreq[i][1], zoomBoxMag[i][0]);
      g.push({ type: 'rect', silent: true, z: 8, shape: { x: bx0, y: by0, width: bx1 - bx0, height: by1 - by0 }, style: { fill: 'none', stroke: '#7f7f7f', lineWidth: 1.5 } });
      const gray = { stroke: '#7f7f7f', lineWidth: 1.5 };
      if (r.side === 'right') {
        g.push({ type: 'line', silent: true, z: 8, shape: { x1: bx1, y1: by0, x2: r.left, y2: r.top }, style: gray });
        g.push({ type: 'line', silent: true, z: 8, shape: { x1: bx1, y1: by1, x2: r.left, y2: r.top + r.height }, style: gray });
      } else {
        g.push({ type: 'line', silent: true, z: 8, shape: { x1: bx0, y1: by0, x2: r.left + r.width, y2: r.top }, style: gray });
        g.push({ type: 'line', silent: true, z: 8, shape: { x1: bx0, y1: by1, x2: r.left + r.width, y2: r.top + r.height }, style: gray });
      }
      g.push({ type: 'rect', silent: true, z: 9, shape: { x: r.left, y: r.top, width: r.width, height: r.height }, style: { fill: '#ffffff', stroke: 'none' } });
      g.push({ type: 'rect', silent: true, z: 12, shape: { x: r.left, y: r.top, width: r.width, height: r.height }, style: { fill: 'none', stroke: '#3a3a3a', lineWidth: 1.5 } });
    });
    g.push({ type: 'rect', silent: true, z: 3, shape: { x: 319.5, y: 371.5, width: 403, height: 60 }, style: { fill: 'none', stroke: INK, lineWidth: 1 } });
    chart.setOption({ graphic: g });

    return () => chart.dispose();
  }, []);

  return (
    <div
      ref={ref}
      style={{ position: 'fixed', left: 0, top: 0, width: 971, height: 415, background: '#ffffff' }}
    />
  );
}
